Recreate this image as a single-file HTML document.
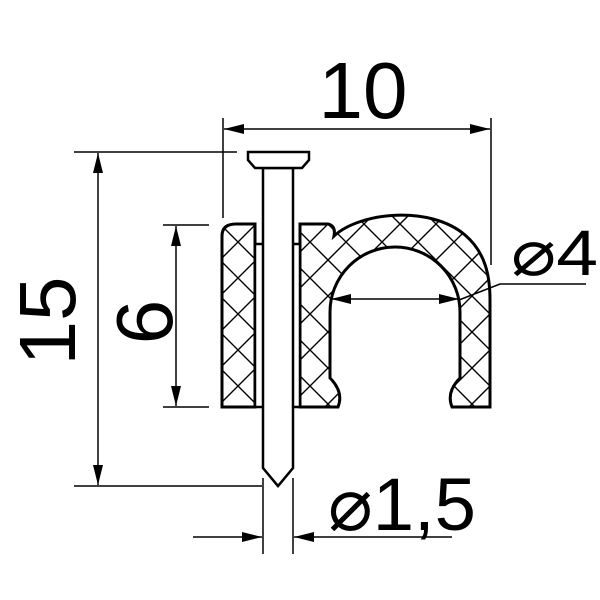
<!DOCTYPE html>
<html><head><style>html,body{margin:0;padding:0;background:#fff}svg{display:block}</style></head><body>
<svg width="600" height="600" viewBox="0 0 600 600" xmlns="http://www.w3.org/2000/svg">
<defs>
<pattern id="h" width="36" height="36" patternUnits="userSpaceOnUse" x="4" y="8">
<path d="M0 0L36 36M36 0L0 36M-4 32L4 40M32 -4L40 4M-4 4L4 -4M32 40L40 32" stroke="#000" stroke-width="1.4"/>
</pattern>
<marker id="a" viewBox="0 0 20 10" refX="20" refY="5" markerWidth="20" markerHeight="10" markerUnits="userSpaceOnUse" orient="auto-start-reverse"><path d="M0 0L20 5L0 10Z"/></marker>
</defs>
<g fill="none" stroke="#000" stroke-width="1.5">
<line x1="223" y1="118" x2="223" y2="218"/>
<line x1="491" y1="118" x2="491" y2="265"/>
<line x1="224" y1="129" x2="490" y2="129" marker-start="url(#a)" marker-end="url(#a)"/>
<line x1="74" y1="152" x2="237" y2="152"/>
<line x1="74" y1="486" x2="262" y2="486"/>
<line x1="98" y1="153" x2="98" y2="485" marker-start="url(#a)" marker-end="url(#a)"/>
<line x1="163" y1="225" x2="209" y2="225"/>
<line x1="163" y1="407" x2="209" y2="407"/>
<line x1="176" y1="226" x2="176" y2="406" marker-start="url(#a)" marker-end="url(#a)"/>
<line x1="331" y1="299" x2="459" y2="299" marker-start="url(#a)" marker-end="url(#a)"/>
<polyline points="459,300 500,284 586,284"/>
<line x1="263" y1="478" x2="263" y2="554"/>
<line x1="293" y1="478" x2="293" y2="554"/>
<line x1="193" y1="537" x2="262" y2="537" marker-end="url(#a)"/>
<line x1="452" y1="537" x2="294" y2="537" marker-end="url(#a)"/>
</g>
<g stroke="#000" stroke-width="3" fill="url(#h)">
<path d="M222 407 L222 236 Q222 224 236 224 L255 224 L255 407 Z"/>
<path d="M300 224 L328 224 Q336 226 334 236 C360 212 430 205 465 235 C485 252 490 275 490 300 L490 407 L452 407 Q446 392 460 378 L460 312 A65 65 0 0 0 330 312 L330 378 Q344 392 338 407 L300 407 Z"/>
</g>
<g stroke="#000" stroke-width="2.5" fill="#fff">
<rect x="255" y="244" width="45" height="163"/>
<path d="M263 168 L263 468 L278 486 L293 468 L293 168 Z"/>
<path d="M248 152 L309 152 L309 160 L302 168 L255 168 L248 160 Z"/>
</g>
<g font-family="Liberation Sans, DejaVu Sans, sans-serif" fill="#000">
<text x="363" y="118" font-size="80" text-anchor="middle">10</text>
<text transform="translate(75,321) rotate(-90)" font-size="80" text-anchor="middle">15</text>
<text transform="translate(172,322) rotate(-90)" font-size="80" text-anchor="middle">6</text>
<text x="511" y="275" font-size="64" textLength="87" lengthAdjust="spacingAndGlyphs">⌀4</text>
<text x="328" y="530" font-size="74" textLength="148" lengthAdjust="spacingAndGlyphs">⌀1,5</text>
</g>
</svg>
</body></html>
